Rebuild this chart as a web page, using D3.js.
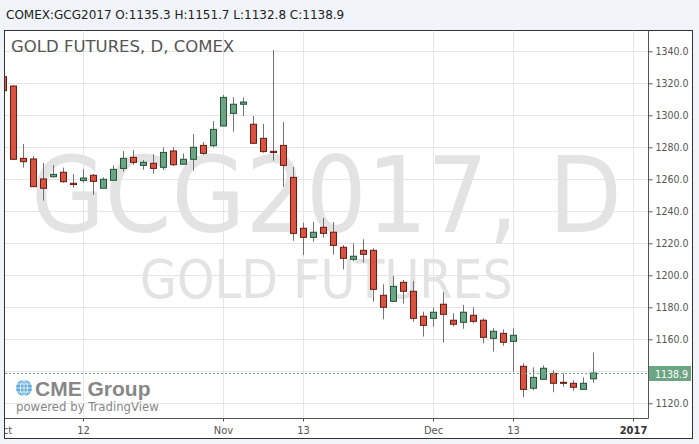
<!DOCTYPE html>
<html><head><meta charset="utf-8">
<script src="https://cdn.jsdelivr.net/npm/d3@7"></script>
<style>
html,body{margin:0;padding:0;background:#f0f3f7;}
svg{display:block;}
</style></head>
<body>
<svg id="c" width="699" height="444"></svg>
<script>
// ---- data ----
const symbol = "COMEX:GCG2017";
const title = "GOLD FUTURES, D, COMEX";
const wmBig = "GCG2017, D";
const wmSmall = "GOLD FUTURES";
const open  = [1324.1,1318.3,1273.1,1272.7,1260.2,1261.6,1264.4,1257.5,1259.2,1262.5,
               1254.4,1259.4,1266.8,1273.7,1268.7,1270.0,1267.5,1277.7,1269.4,1272.5,
               1281.2,1281.0,1293.3,1301.2,1306.9,1294.4,1285.6,1277.5,1281.2,1261.2,
               1229.4,1223.7,1230.0,1226.9,1217.5,1210.0,1215.6,1215.6,1187.5,1183.7,
               1195.6,1190.0,1174.4,1173.1,1181.9,1171.9,1170.6,1175.0,1171.9,1160.6,
               1163.7,1158.7,1143.1,1129.4,1135.0,1138.7,1133.1,1132.5,1128.7,1135.3];
const high  = [1325.5,1318.6,1282.1,1274.6,1270.2,1268.9,1267.3,1263.3,1266.4,1263.3,
               1261.2,1268.7,1277.7,1278.3,1272.1,1275.6,1280.0,1280.0,1276.2,1288.3,
               1283.3,1296.4,1312.7,1311.2,1311.2,1299.6,1294.6,1340.8,1295.8,1267.7,
               1232.9,1233.3,1235.8,1233.3,1218.9,1220.0,1222.5,1216.9,1194.4,1199.6,
               1197.1,1196.5,1177.3,1179.8,1189.4,1176.2,1181.4,1180.0,1173.1,1166.9,
               1166.2,1166.9,1145.0,1142.5,1143.7,1140.6,1138.7,1134.4,1136.2,1151.7];
const low   = [1313.8,1272.2,1267.3,1255.2,1246.6,1261.0,1257.9,1254.8,1257.9,1250.2,
               1254.4,1259.2,1264.8,1269.1,1266.0,1263.5,1265.8,1268.3,1269.4,1265.4,
               1275.2,1280.0,1293.3,1289.8,1299.6,1282.3,1276.6,1271.6,1255.4,1221.5,
               1212.7,1221.0,1223.5,1212.9,1203.7,1208.7,1207.9,1183.5,1172.5,1183.7,
               1182.3,1171.0,1161.7,1167.9,1157.9,1167.9,1166.6,1170.0,1157.5,1152.3,
               1156.0,1139.8,1123.7,1128.1,1135.0,1126.9,1130.4,1127.9,1128.7,1132.8];
const close = [1315.4,1272.5,1271.0,1255.4,1254.4,1263.1,1258.5,1256.7,1260.8,1258.7,
               1260.0,1266.2,1273.1,1270.6,1270.6,1266.8,1276.8,1269.1,1272.5,1280.0,
               1276.2,1291.2,1311.2,1306.9,1308.3,1282.5,1277.3,1276.7,1268.7,1226.2,
               1223.7,1226.9,1226.2,1218.7,1210.6,1211.9,1213.1,1191.2,1180.0,1193.1,
               1190.0,1173.1,1168.7,1176.9,1175.6,1169.4,1176.9,1171.2,1161.2,1165.0,
               1158.1,1162.5,1128.7,1136.2,1141.9,1132.5,1132.5,1130.0,1132.5,1138.9];
const tickBars   = [0, 8, 22, 30, 43, 51, 63];
const tickLabels = ["Oct","12","Nov","13","Dec","13","2017"];
const yGrid   = [1120,1140,1160,1180,1200,1220,1240,1260,1280,1300,1320,1340];
const yLabels = [1120,1160,1180,1200,1220,1240,1260,1280,1300,1320,1340];

// ---- layout ----
const L = 5, R = 648, T = 30.5, B = 418;
const svg = d3.select("#c");
const COND = "'DejaVu Sans Condensed','DejaVu Sans',sans-serif";
const UP = {fill:"#6ba583", stroke:"#225437"};
const DN = {fill:"#d75442", stroke:"#6b1a12"};

const x = d3.scaleLinear().domain([0.17, 64.47]).range([L, R]);
const y = d3.scaleLinear().domain([1110.8, 1353]).range([B, T]);
const last = close.length - 1;
const fmt = d3.format(".1f");

// header
svg.append("text").attr("x", 6).attr("y", 19)
  .attr("font-family", "'DejaVu Sans',sans-serif").attr("font-size", 12).attr("fill", "#222")
  .text(`${symbol} O:${fmt(open[last])} H:${fmt(high[last])} L:${fmt(low[last])} C:${fmt(close[last])}`);

// chart container
svg.append("rect").attr("x", 4.5).attr("y", 30.5).attr("width", 688).attr("height", 408)
  .attr("fill", "#fff").attr("stroke", "#333");

const defs = svg.append("defs");
defs.append("clipPath").attr("id", "plot").append("rect")
  .attr("x", L).attr("y", T).attr("width", R - L).attr("height", B - T);
defs.append("clipPath").attr("id", "xax").append("rect")
  .attr("x", L).attr("y", B).attr("width", R - L + 20).attr("height", 20);

const plot = svg.append("g").attr("clip-path", "url(#plot)");

// grid
plot.append("g").selectAll("line").data(yGrid).join("line")
  .attr("x1", L).attr("x2", R)
  .attr("y1", d => Math.round(y(d)) + 0.5).attr("y2", d => Math.round(y(d)) + 0.5)
  .attr("stroke", "#e6e6e6");
plot.append("g").selectAll("line").data(tickBars).join("line")
  .attr("x1", d => Math.round(x(d)) + 0.5).attr("x2", d => Math.round(x(d)) + 0.5)
  .attr("y1", T).attr("y2", B).attr("stroke", "#e6e6e6");

// watermark
const cx = (L + R) / 2;
plot.append("text").attr("x", cx).attr("y", 232).attr("text-anchor", "middle")
  .attr("font-family", COND).attr("font-size", 106).attr("fill", "#e3e3e3").text(wmBig);
plot.append("text").attr("x", cx).attr("y", 298).attr("text-anchor", "middle")
  .attr("font-family", COND).attr("font-size", 53).attr("fill", "#e3e3e3").text(wmSmall);

// title
svg.append("text").attr("x", 11).attr("y", 52)
  .attr("font-family", "'DejaVu Sans',sans-serif").attr("font-size", 16.5).attr("fill", "#555")
  .text(title);

// candles
const idx = d3.range(open.length);
const cxp = i => Math.round(x(i)) + 0.5;
const cg = plot.append("g");
cg.selectAll("line").data(idx).join("line")
  .attr("x1", cxp).attr("x2", cxp)
  .attr("y1", i => y(high[i])).attr("y2", i => y(low[i]))
  .attr("stroke", "#737373");
cg.selectAll("rect").data(idx).join("rect")
  .attr("x", i => cxp(i) - 3).attr("width", 6)
  .attr("y", i => y(Math.max(open[i], close[i])))
  .attr("height", i => Math.max(1, Math.abs(y(open[i]) - y(close[i]))))
  .attr("fill", i => (close[i] >= open[i] ? UP : DN).fill)
  .attr("stroke", i => (close[i] >= open[i] ? UP : DN).stroke);

// price line
const py = Math.round(y(close[last])) + 0.5;
plot.append("line").attr("x1", L).attr("x2", R).attr("y1", py).attr("y2", py)
  .attr("stroke", "#6ba583").attr("stroke-dasharray", "2,2");

// logo
const lg = svg.append("g");
lg.append("circle").attr("cx", 24).attr("cy", 388).attr("r", 8).attr("fill", "#5fa9da");
[-4, 0, 4].forEach(o => {
  lg.append("line").attr("x1", 16).attr("x2", 32).attr("y1", 388 + o).attr("y2", 388 + o)
    .attr("stroke", "#fff").attr("stroke-width", 0.8);
});
lg.append("ellipse").attr("cx", 24).attr("cy", 388).attr("rx", 3.5).attr("ry", 8)
  .attr("fill", "none").attr("stroke", "#fff").attr("stroke-width", 0.8);
lg.append("line").attr("x1", 24).attr("x2", 24).attr("y1", 380).attr("y2", 396)
  .attr("stroke", "#fff").attr("stroke-width", 0.8);
lg.append("text").attr("x", 35).attr("y", 396)
  .attr("font-family", "'Liberation Sans',Arial,sans-serif").attr("font-weight", "bold")
  .attr("font-size", 21).attr("fill", "#878787").text("CME Group");
lg.append("text").attr("x", 16).attr("y", 411)
  .attr("font-family", COND).attr("font-size", 13).attr("fill", "#878787").text("powered by TradingView");

// axes lines
svg.append("line").attr("x1", L).attr("x2", R + 0.5).attr("y1", B + 0.5).attr("y2", B + 0.5).attr("stroke", "#555");
svg.append("line").attr("x1", R + 0.5).attr("x2", R + 0.5).attr("y1", T).attr("y2", B + 0.5).attr("stroke", "#555");

// y axis
const ya = svg.append("g").attr("transform", `translate(${R + 0.5},0)`)
  .call(d3.axisRight(y).tickValues(yLabels).tickFormat(fmt).tickSize(4).tickSizeOuter(0).tickPadding(3));
ya.select(".domain").remove();
ya.selectAll("line").attr("stroke", "#555");
ya.selectAll("text").attr("font-family", COND).attr("font-size", 10.5).attr("fill", "#555");

// x axis
const xa = svg.append("g").attr("clip-path", "url(#xax)").append("g")
  .attr("transform", `translate(0,${B + 0.5})`)
  .call(d3.axisBottom(x).tickValues(tickBars).tickFormat((d, i) => tickLabels[i])
    .tickSize(3).tickSizeOuter(0).tickPadding(5));
xa.select(".domain").remove();
xa.selectAll(".tick").attr("transform", d => `translate(${Math.round(x(d)) + 0.5},0)`);
xa.selectAll("line").attr("stroke", "#555");
xa.selectAll("text").attr("font-family", COND).attr("font-size", 11)
  .attr("font-weight", (d, i) => tickLabels[i] === "2017" ? "bold" : "normal")
  .attr("fill", (d, i) => tickLabels[i] === "2017" ? "#333" : "#555");

// last price label
const lab = svg.append("g");
lab.append("rect").attr("x", R + 1).attr("y", py - 7.5).attr("width", 42).attr("height", 15).attr("fill", "#6ba583");
lab.append("text").attr("x", R + 7).attr("y", py + 4).attr("font-family", COND).attr("font-size", 10.5)
  .attr("fill", "#fff").text(fmt(close[last]));
</script>
</body></html>
